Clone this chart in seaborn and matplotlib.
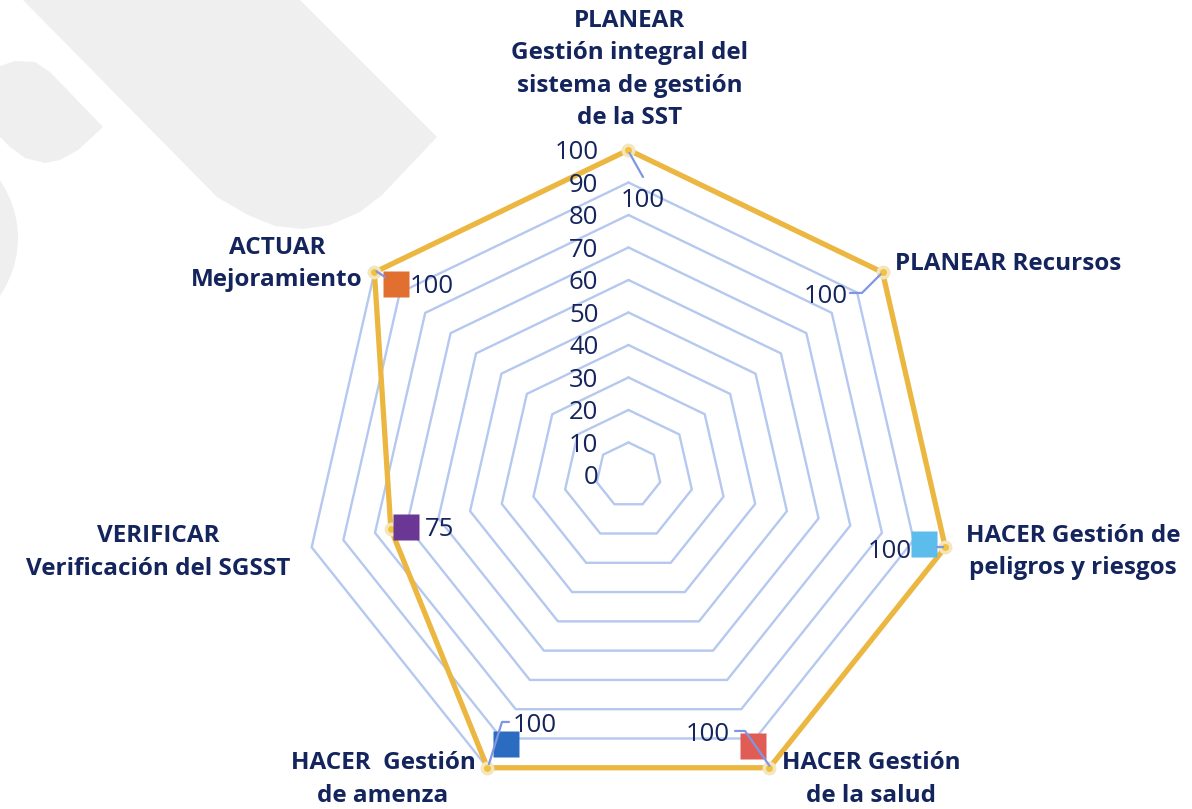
import numpy as np
import pandas as pd
import matplotlib
matplotlib.use("Agg")
import matplotlib.pyplot as plt
from matplotlib.transforms import offset_copy, IdentityTransform
from matplotlib.patches import Polygon, Ellipse
from matplotlib.lines import Line2D
import seaborn as sns

# ── data ──────────────────────────────────────────────────────
categories = [
    "PLANEAR\nGestión integral del\nsistema de gestión\nde la SST",
    "PLANEAR Recursos",
    "HACER Gestión de\npeligros y riesgos",
    "HACER Gestión\nde la salud",
    "HACER  Gestión\nde amenza",
    "VERIFICAR\nVerificación del SGSST",
    "ACTUAR\nMejoramiento",
]
values = [100, 100, 100, 100, 100, 75, 100]
r_ticks = list(range(0, 101, 10))

# ── style ─────────────────────────────────────────────────────
NAVY = "#14245c"
GOLD = "#ebb740"
GRID = "#b5c8ef"
LEADER = "#7f96e4"
WATERMARK = "#efefef"
key_colors = [None, None, "#5cbcec", "#e05d55", "#2b6cc0", "#6b3794", "#e06f30"]

# layout offsets in pixels (x right, y up)
cat_offsets = [(1.5, 80.5, "center"), (12, 8, "left"), (128, -4.7, "center"),
               (101.5, -11.7, "center"), (-104.5, -11.7, "center"),
               (-153.6, -5.2, "center"), (-97.4, 8.4, "center")]
val_offsets = [(14.5, -48), (-56.6, -21.6), (-55.4, -1.7), (-61.5, 35.8),
               (47.5, 44.8), (49, 2.2), (57.5, -11.6)]
key_offsets = [None, None, (-20.9, 2.8), (-16, 21.8), (19, 23.3), (15.1, 1.7), (21.1, -12.1)]
leader_pts = [
    [(14.5, -27), (1, -3)],
    [(-32.6, -20.6), (-20.6, -20.6), (-2, -2)],
    [(-8.4, 0), (-2, 0)],
    [(-34.5, 36.8), (-24.5, 36.8), (0, 2)],
    [(21.5, 45.8), (14.5, 45.8), (1.5, 3.8)],
    [],
    [(2, 1), (10.6, -4.6)],
]

sns.set_theme(style="white")
plt.rcParams["font.family"] = ["Open Sans", "DejaVu Sans"]

fig = plt.figure(figsize=(11.92, 8.09), dpi=100)

# ── watermark shapes in background ────────────────────────────
bg = fig.add_axes([0, 0, 1, 1], zorder=0)
bg.set_xlim(0, 1192)
bg.set_ylim(809, 0)
bg.axis("off")
bg.add_patch(Polygon([(23, 0), (300, 0), (437, 137), (382, 195), (360, 212),
                      (330, 225), (303, 229), (275, 226), (248, 215), (217, 197)],
                     closed=True, color=WATERMARK, lw=0))
bg.add_patch(Polygon([(0, 66), (15, 61), (35, 62), (50, 72), (103, 127), (78, 150),
                      (60, 160), (45, 163), (25, 158), (10, 147), (0, 137)],
                     closed=True, color=WATERMARK, lw=0))
bg.add_patch(Ellipse((-110, 238), 256, 226, color=WATERMARK, lw=0))

# ── radar axes ────────────────────────────────────────────────
ax = fig.add_axes([0.2546, 0.0112, 0.5453, 0.8034], projection="polar", zorder=1)
ax.set_theta_offset(np.pi / 2)
ax.set_theta_direction(-1)
ax.set_ylim(0, 100)
ax.grid(False)
ax.set_xticks([])
ax.set_yticks([])
ax.spines["polar"].set_visible(False)
ax.patch.set_alpha(0)

n = len(categories)
theta = np.linspace(0, 2 * np.pi, n, endpoint=False)
theta_closed = np.append(theta, theta[0] + 2 * np.pi)

# heptagon gridlines
for lvl in r_ticks[1:]:
    ax.plot(theta_closed, [lvl] * (n + 1), color=GRID, lw=1.7, zorder=1)

# radial tick labels
tick_tr = offset_copy(ax.transData, fig=fig, x=-30, y=0, units="dots")
for lvl in r_ticks:
    ax.text(0, lvl, str(lvl), transform=tick_tr, ha="right", va="center_baseline",
            fontsize=18.5, color=NAVY, zorder=5)

# series line
df = pd.DataFrame({"theta": theta_closed, "value": values + values[:1]})
sns.lineplot(data=df, x="theta", y="value", sort=False, estimator=None,
             color=GOLD, lw=3.8, ax=ax, zorder=3)
for ln in ax.lines:
    ln.set_clip_on(False)
ax.set_xlabel("")
ax.set_ylabel("")

# vertex markers
ax.plot(theta, values, ls="none", marker="o", ms=10, mfc="#f3e6bd", mec="none",
        zorder=4, clip_on=False)
ax.plot(theta, values, ls="none", marker="o", ms=5, mfc="#f2c23e", mec="none",
        zorder=4, clip_on=False)

fig.canvas.draw()

for i in range(n):
    # category label at axis end
    dx, dy, ha = cat_offsets[i]
    tr = offset_copy(ax.transData, fig=fig, x=dx, y=dy, units="dots")
    ax.text(theta[i], 100, categories[i], transform=tr, ha=ha, va="center",
            multialignment="center", fontsize=17.5, fontweight="bold",
            color=NAVY, linespacing=1.45, zorder=5, clip_on=False)

    # leader line
    vx, vy = ax.transData.transform((theta[i], values[i]))
    pts = leader_pts[i]
    if pts:
        xs = [vx + p[0] for p in pts]
        ys = [vy + p[1] for p in pts]
        fig.add_artist(Line2D(xs, ys, transform=IdentityTransform(), color=LEADER,
                              lw=1.6, zorder=2))

    # legend key square
    if key_colors[i] is not None:
        kx, ky = key_offsets[i]
        ktr = offset_copy(ax.transData, fig=fig, x=kx, y=ky, units="dots")
        ax.plot([theta[i]], [values[i]], ls="none", marker="s", ms=18.5,
                mfc=key_colors[i], mec="none", transform=ktr, zorder=6, clip_on=False)

    # value label
    lx, ly = val_offsets[i]
    ltr = offset_copy(ax.transData, fig=fig, x=lx, y=ly, units="dots")
    ax.text(theta[i], values[i], str(values[i]), transform=ltr, ha="center",
            va="center_baseline", fontsize=18.5, color=NAVY, zorder=6, clip_on=False)

fig.savefig("out.png", dpi=100, facecolor="white")
